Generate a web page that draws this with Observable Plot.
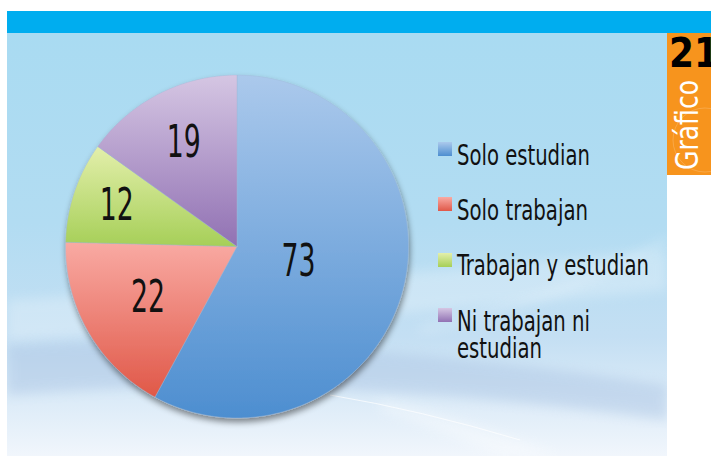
<!DOCTYPE html>
<html><head><meta charset="utf-8">
<script src="https://cdn.jsdelivr.net/npm/d3@7"></script>
<script src="https://cdn.jsdelivr.net/npm/@observablehq/plot@0.6"></script>
<style>
html,body{margin:0;padding:0;background:#fff;}
#wrap{position:relative;width:711px;height:460px;overflow:hidden;}
#wrap svg{position:absolute;left:0;top:0;}
</style>
</head><body>
<div id="wrap"></div>
<script>
// ---- data ----
const categories = ["Solo estudian", "Solo trabajan", "Trabajan y estudian", "Ni trabajan ni estudian"];
const values = [73, 22, 12, 19];
const legendLines = [["Solo estudian"], ["Solo trabajan"], ["Trabajan y estudian"], ["Ni trabajan ni", "estudian"]];
const tabNumber = "21";
const tabWord = "Gráfico";

// ---- layout / style (not data) ----
const FONT = "'Liberation Sans Narrow','DejaVu Sans Condensed','Roboto',sans-serif";
const W = 711, H = 460;
const cx = 236.5, cy = 246, R = 171.5;
const labelRadius = [0.37, 0.60, 0.74, 0.68];
const gradTop = ["#abc9ec", "#f9aaa3", "#e3efab", "#d5c6e3"];
const gradBot = ["#4d8ed0", "#e05848", "#a6cf58", "#9171b3"];
const gradIds = ["gBlue", "gRed", "gGreen", "gPurple"];

const wrap = document.getElementById("wrap");

// ---- background / decoration svg ----
const bg = d3.create("svg").attr("width", W).attr("height", H);
const defs = bg.append("defs");
gradIds.forEach((id, i) => {
  const g = defs.append("linearGradient").attr("id", id).attr("x1", 0).attr("y1", 0).attr("x2", 0).attr("y2", 1);
  g.append("stop").attr("offset", "0%").attr("stop-color", gradTop[i]);
  g.append("stop").attr("offset", "100%").attr("stop-color", gradBot[i]);
});
const pg = defs.append("linearGradient").attr("id", "panelG").attr("x1", 0).attr("y1", 0).attr("x2", 0).attr("y2", 1);
[["0%", "#a9dbf2"], ["45%", "#b2dcf2"], ["72%", "#c4dff3"], ["100%", "#f1f6fc"]].forEach(([o, c]) => pg.append("stop").attr("offset", o).attr("stop-color", c));
const f = defs.append("filter").attr("id", "shadow").attr("x", "-20%").attr("y", "-20%").attr("width", "140%").attr("height", "140%");
f.append("feDropShadow").attr("dx", 1).attr("dy", 4).attr("stdDeviation", 3).attr("flood-color", "#000").attr("flood-opacity", 0.45);
const bl = defs.append("filter").attr("id", "blur").append("feGaussianBlur").attr("stdDeviation", 6);
defs.append("clipPath").attr("id", "panelClip").append("rect").attr("x", 7).attr("y", 33).attr("width", 660).attr("height", 423);

// panel
bg.append("rect").attr("x", 7).attr("y", 33).attr("width", 660).attr("height", 423).attr("fill", "url(#panelG)");
const sw = bg.append("g").attr("clip-path", "url(#panelClip)");
sw.append("path").attr("d", "M7,345 Q300,330 667,385 L667,420 Q300,370 7,395 Z").attr("fill", "#a9c2e2").attr("opacity", 0.45).attr("filter", "url(#blur)");
sw.append("path").attr("d", "M7,300 Q350,280 667,250 L667,290 Q350,320 7,340 Z").attr("fill", "#ffffff").attr("opacity", 0.25).attr("filter", "url(#blur)");
sw.append("path").attr("d", "M380,400 Q470,420 560,456 L500,456 Q440,430 380,410 Z").attr("fill", "#ffffff").attr("opacity", 0.35).attr("filter", "url(#blur)");
sw.append("path").attr("d", "M330,395 Q420,410 520,440").attr("fill", "none").attr("stroke", "#ffffff").attr("stroke-width", 1).attr("opacity", 0.7);
sw.append("path").attr("d", "M420,330 Q560,300 667,240").attr("fill", "none").attr("stroke", "#ffffff").attr("stroke-width", 6).attr("opacity", 0.25).attr("filter", "url(#blur)");

// top bar
bg.append("rect").attr("x", 7).attr("y", 11).attr("width", W - 7).attr("height", 22).attr("fill", "#00adef");
// orange tab
bg.append("rect").attr("x", 667).attr("y", 33).attr("width", 44).attr("height", 142).attr("fill", "#f7941d");
bg.append("circle").attr("cx", 705).attr("cy", 140).attr("r", 32).attr("fill", "none").attr("stroke", "#ffffff").attr("stroke-opacity", 0.18);
bg.append("text").attr("x", 669).attr("y", 67).attr("font-family", FONT).attr("font-weight", "bold")
  .attr("font-size", 40).attr("fill", "#000").attr("textLength", 50).attr("lengthAdjust", "spacingAndGlyphs").text(tabNumber);
bg.append("text").attr("transform", "translate(698,170) rotate(-90)").attr("font-family", FONT)
  .attr("font-size", 32).attr("fill", "#fff").attr("textLength", 90).attr("lengthAdjust", "spacingAndGlyphs").text(tabWord);

// legend
const legTop = [142, 197, 253, 308];
const legBase = [[165], [220], [275], [331, 358]];
const legLen = [[133], [131], [192], [133, 85]];
categories.forEach((c, i) => {
  bg.append("rect").attr("x", 438).attr("y", legTop[i]).attr("width", 14).attr("height", 14).attr("fill", `url(#${gradIds[i]})`);
  legendLines[i].forEach((ln, j) => {
    bg.append("text").attr("x", 457).attr("y", legBase[i][j]).attr("font-family", FONT).attr("font-size", 29)
      .attr("fill", "#111").attr("textLength", legLen[i][j]).attr("lengthAdjust", "spacingAndGlyphs").text(ln);
  });
});
wrap.appendChild(bg.node());

// ---- pie via Plot ----
const total = d3.sum(values);
const pts = [];
const labels = [];
let acc = 0;
categories.forEach((c, i) => {
  const a0 = acc / total * 2 * Math.PI;
  acc += values[i];
  const a1 = acc / total * 2 * Math.PI;
  const n = Math.max(2, Math.ceil((a1 - a0) / (Math.PI / 180)));
  pts.push({cat: c, x: 0, y: 0});
  for (let k = 0; k <= n; k++) {
    const a = a0 + (a1 - a0) * k / n;
    pts.push({cat: c, x: Math.sin(a), y: Math.cos(a)});
  }
  pts.push({cat: c, x: 0, y: 0});
  const am = (a0 + a1) / 2;
  labels.push({cat: c, value: values[i], x: Math.sin(am) * labelRadius[i], y: Math.cos(am) * labelRadius[i]});
});

const plot = Plot.plot({
  width: W, height: H, margin: 0,
  style: {background: "transparent", overflow: "visible"},
  x: {domain: [-1, 1], range: [cx - R, cx + R], axis: null},
  y: {domain: [-1, 1], range: [cy + R, cy - R], axis: null},
  color: {type: "ordinal", domain: categories, range: gradIds.map(id => `url(#${id})`)},
  marks: [
    Plot.line(pts, {x: "x", y: "y", z: "cat", fill: "cat", stroke: "#9fb9d8", strokeOpacity: 0.5, strokeWidth: 0.8, curve: "linear"}),
    Plot.text(labels, {x: "x", y: "y", text: d => String(d.value), fontSize: 44, fontFamily: FONT, fill: "#111", textAnchor: "middle", lineAnchor: "middle"})
  ]
});
const lineG = plot.querySelector('g[aria-label="line"]');
if (lineG) lineG.setAttribute("filter", "url(#shadow)");
plot.querySelectorAll('g[aria-label="text"] text').forEach(t => {
  t.setAttribute("textLength", 34);
  t.setAttribute("lengthAdjust", "spacingAndGlyphs");
});
wrap.appendChild(plot);
</script>
</body></html>
